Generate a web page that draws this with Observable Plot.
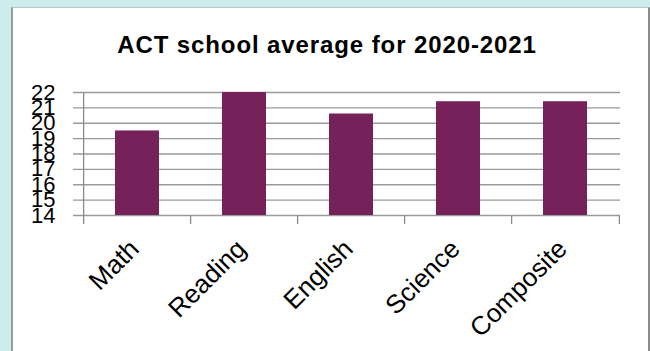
<!DOCTYPE html>
<html>
<head>
<meta charset="utf-8">
<script src="https://cdn.jsdelivr.net/npm/d3@7"></script>
<script src="https://cdn.jsdelivr.net/npm/@observablehq/plot@0.6"></script>
<style>
  html, body { margin: 0; padding: 0; }
  body { width: 650px; height: 351px; overflow: hidden; position: relative; background: #cdecec; font-family: "Liberation Sans", Arial, sans-serif; }
  #panel { position: absolute; left: 11px; top: 7px; width: 635px; height: 360px; background: #fff; border-left: 2px solid #9a9a9a; border-right: 2px solid #8a8a8a; border-top: 1px solid #b8c8c8; }
  #chart { position: absolute; left: 0; top: 0; width: 650px; }
  #title { box-sizing: border-box; height: 80px; padding-top: 33px; line-height: 24px; font-size: 24px; font-weight: bold; letter-spacing: 0.9px; text-align: center; padding-left: 4px; color: #000; white-space: nowrap; }
  svg { display: block; }
</style>
</head>
<body>
<div id="panel"></div>
<div id="chart">
  <div id="title"></div>
</div>
<script>
const titleText = "ACT school average for 2020-2021";
const categories = ["Math", "Reading", "English", "Science", "Composite"];
const scores = [19.5, 22, 20.6, 21.4, 21.4];
const yTicks = [14, 15, 16, 17, 18, 19, 20, 21, 22];
const yMin = 14, yMax = 22;

const data = categories.map((c, i) => ({subject: c, score: scores[i]}));

document.getElementById("title").textContent = titleText;

const W = 650, mL = 81, mR = 30;
const pInner = 0.59, pOuter = 0.295;
const step = (W - mL - mR) / (categories.length - pInner + 2 * pOuter);

const chart = Plot.plot({
  width: W,
  height: 271,
  marginLeft: mL,
  marginRight: mR,
  marginTop: 12,
  marginBottom: 136,
  style: {background: "transparent", fontFamily: "'Liberation Sans', Arial, sans-serif", overflow: "visible", color: "#000"},
  x: {domain: categories, paddingInner: pInner, paddingOuter: pOuter, axis: null},
  y: {domain: [yMin, yMax], axis: null, label: null},
  marks: [
    Plot.ruleY(yTicks, {stroke: "#9a9a9a", strokeWidth: 1.3, insetLeft: -8}),
    Plot.barY(data, {x: "subject", y1: yMin, y2: "score", fill: "#762159"}),
    Plot.ruleX([categories[0]], {x: d => d, dx: -step / 2, y1: yMin, y2: yMax, stroke: "#8a8a8a", strokeWidth: 1.3}),
    Plot.ruleX(categories, {x: d => d, dx: -step / 2, y1: yMin, y2: yMin, insetBottom: -9, stroke: "#8a8a8a", strokeWidth: 1.3}),
    Plot.ruleX([categories[categories.length - 1]], {x: d => d, dx: step / 2, y1: yMin, y2: yMin, insetBottom: -9, stroke: "#8a8a8a", strokeWidth: 1.3}),
    Plot.text(yTicks, {y: d => d, frameAnchor: "left", text: d => String(d), textAnchor: "end", dx: -26, fontSize: 22, fill: "#000"}),
    Plot.text(data, {x: "subject", frameAnchor: "bottom", text: "subject", rotate: -45, textAnchor: "end", lineAnchor: "bottom", dx: 3, dy: 35, fontSize: 26, fill: "#000"})
  ]
});
document.getElementById("chart").appendChild(chart);
</script>
</body>
</html>
